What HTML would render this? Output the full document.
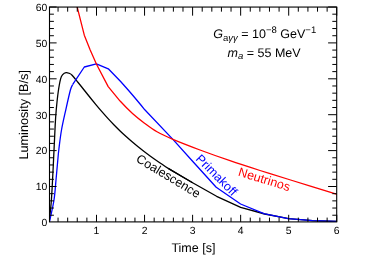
<!DOCTYPE html>
<html><head><meta charset="utf-8"><style>
html,body{margin:0;padding:0;background:#fff;}
svg{display:block;text-rendering:geometricPrecision;will-change:transform;font-family:"Liberation Sans",sans-serif;}
</style></head><body>
<svg width="374" height="271" viewBox="0 0 374 271">
<rect width="374" height="271" fill="#fff"/>
<defs><clipPath id="c"><rect x="49.5" y="7.06" width="287.2" height="214.84"/></clipPath></defs>
<g clip-path="url(#c)" fill="none" stroke-width="1.3" stroke-linejoin="round">
<path d="M49.20 221.70 C49.57 218.08 50.72 209.45 51.40 200.00 C52.08 190.55 52.67 177.50 53.30 165.00 C53.93 152.50 54.70 134.28 55.20 125.00 C55.70 115.72 55.80 114.80 56.30 109.30 C56.80 103.80 57.48 97.08 58.20 92.00 C58.92 86.92 59.85 81.75 60.60 78.85 C61.35 75.95 61.79 75.64 62.70 74.60 C63.61 73.56 64.97 72.82 66.05 72.60 C67.13 72.38 68.19 72.87 69.20 73.30 C70.21 73.73 70.62 73.67 72.10 75.20 C73.58 76.73 76.10 80.04 78.10 82.50 C80.10 84.96 82.10 87.49 84.10 89.98 C86.10 92.48 88.10 95.01 90.10 97.48 C92.10 99.95 94.10 102.41 96.10 104.82 C98.10 107.22 100.10 109.60 102.10 111.91 C104.10 114.22 106.10 116.49 108.10 118.68 C110.10 120.87 112.10 122.99 114.10 125.04 C116.10 127.10 118.10 129.07 120.10 130.99 C122.10 132.92 124.10 134.77 126.10 136.57 C128.10 138.38 130.10 140.12 132.10 141.81 C134.10 143.51 136.10 145.15 138.10 146.76 C140.10 148.36 142.10 149.91 144.10 151.44 C146.10 152.96 148.10 154.44 150.10 155.90 C152.10 157.35 154.10 158.77 156.10 160.17 C158.10 161.57 160.02 162.90 162.10 164.30 C164.18 165.70 163.52 165.53 168.60 168.60 C173.68 171.67 188.60 180.35 192.60 182.70" stroke="#000"/>
<path d="M168.60 168.60 L192.60 182.70 L216.60 196.30 L240.65 207.30 L264.70 214.00 L288.70 218.70 L312.70 220.60 L337.00 221.50" stroke="#000"/>
<path d="M49.50 221.70 C50.25 218.08 52.92 206.95 54.00 200.00 C55.08 193.05 55.37 186.67 56.00 180.00 C56.63 173.33 57.32 165.17 57.80 160.00 C58.28 154.83 58.28 154.00 58.90 149.00 C59.52 144.00 60.33 136.62 61.50 130.00 C62.67 123.38 64.42 115.97 65.90 109.30 C67.38 102.63 69.28 94.10 70.40 90.00 C71.52 85.90 72.23 85.58 72.60 84.70 " stroke="#00f"/>
<path d="M72.60 84.70 L84.30 67.00 L96.40 63.80 L108.30 68.80 L120.40 81.20 L128.20 90.00 L134.00 96.70 L140.90 105.00 L144.80 109.80 L172.90 139.40 L192.60 161.30 L216.20 187.20 L240.60 204.00 L263.90 213.70 L288.00 218.60 L312.70 220.60 L337.00 221.50" stroke="#00f"/>
<path d="M75.50 0.00 L77.20 7.10 L84.30 35.20 L90.20 50.00 L96.50 64.30 L108.20 86.60 L120.10 101.05" stroke="#f00"/>
<path d="M120.10 101.05 C124.15 105.53 128.43 109.81 132.50 113.50 C136.57 117.19 140.42 120.15 144.50 123.20 C148.58 126.25 152.27 129.10 157.00 131.80 C161.73 134.50 165.73 136.37 172.90 139.40 C180.07 142.43 190.48 146.45 200.00 150.00 C209.52 153.55 220.00 157.28 230.00 160.70 C240.00 164.12 249.90 167.28 260.00 170.50 C270.10 173.72 277.87 176.07 290.60 180.00 C303.33 183.93 327.33 191.32 336.40 194.10 C345.47 196.88 343.57 196.27 345.00 196.70" stroke="#f00"/>
</g>
<rect x="49.5" y="7.06" width="287.2" height="214.84" fill="none" stroke="#000" stroke-width="1.1"/>
<path d="M58.06 221.90 v-4.30 M58.06 7.06 v4.60 M67.67 221.90 v-4.30 M67.67 7.06 v4.60 M77.28 221.90 v-4.30 M77.28 7.06 v4.60 M86.89 221.90 v-4.30 M86.89 7.06 v4.60 M96.50 221.90 v-7.10 M96.50 7.06 v8.60 M106.11 221.90 v-4.30 M106.11 7.06 v4.60 M115.72 221.90 v-4.30 M115.72 7.06 v4.60 M125.33 221.90 v-4.30 M125.33 7.06 v4.60 M134.94 221.90 v-4.30 M134.94 7.06 v4.60 M144.55 221.90 v-7.10 M144.55 7.06 v8.60 M154.16 221.90 v-4.30 M154.16 7.06 v4.60 M163.77 221.90 v-4.30 M163.77 7.06 v4.60 M173.38 221.90 v-4.30 M173.38 7.06 v4.60 M182.99 221.90 v-4.30 M182.99 7.06 v4.60 M192.60 221.90 v-7.10 M192.60 7.06 v8.60 M202.21 221.90 v-4.30 M202.21 7.06 v4.60 M211.82 221.90 v-4.30 M211.82 7.06 v4.60 M221.43 221.90 v-4.30 M221.43 7.06 v4.60 M231.04 221.90 v-4.30 M231.04 7.06 v4.60 M240.65 221.90 v-7.10 M240.65 7.06 v8.60 M250.26 221.90 v-4.30 M250.26 7.06 v4.60 M259.87 221.90 v-4.30 M259.87 7.06 v4.60 M269.48 221.90 v-4.30 M269.48 7.06 v4.60 M279.09 221.90 v-4.30 M279.09 7.06 v4.60 M288.70 221.90 v-7.10 M288.70 7.06 v8.60 M298.31 221.90 v-4.30 M298.31 7.06 v4.60 M307.92 221.90 v-4.30 M307.92 7.06 v4.60 M317.53 221.90 v-4.30 M317.53 7.06 v4.60 M327.14 221.90 v-4.30 M327.14 7.06 v4.60 M336.75 221.90 v-7.10 M336.75 7.06 v8.60 M49.50 215.22 h4.40 M336.70 215.22 h-4.40 M49.50 208.04 h4.40 M336.70 208.04 h-4.40 M49.50 200.86 h4.40 M336.70 200.86 h-4.40 M49.50 193.68 h4.40 M336.70 193.68 h-4.40 M49.50 186.50 h7.10 M336.70 186.50 h-8.60 M49.50 179.32 h4.40 M336.70 179.32 h-4.40 M49.50 172.14 h4.40 M336.70 172.14 h-4.40 M49.50 164.96 h4.40 M336.70 164.96 h-4.40 M49.50 157.78 h4.40 M336.70 157.78 h-4.40 M49.50 150.60 h7.10 M336.70 150.60 h-8.60 M49.50 143.42 h4.40 M336.70 143.42 h-4.40 M49.50 136.24 h4.40 M336.70 136.24 h-4.40 M49.50 129.06 h4.40 M336.70 129.06 h-4.40 M49.50 121.88 h4.40 M336.70 121.88 h-4.40 M49.50 114.70 h7.10 M336.70 114.70 h-8.60 M49.50 107.52 h4.40 M336.70 107.52 h-4.40 M49.50 100.34 h4.40 M336.70 100.34 h-4.40 M49.50 93.16 h4.40 M336.70 93.16 h-4.40 M49.50 85.98 h4.40 M336.70 85.98 h-4.40 M49.50 78.80 h7.10 M336.70 78.80 h-8.60 M49.50 71.62 h4.40 M336.70 71.62 h-4.40 M49.50 64.44 h4.40 M336.70 64.44 h-4.40 M49.50 57.26 h4.40 M336.70 57.26 h-4.40 M49.50 50.08 h4.40 M336.70 50.08 h-4.40 M49.50 42.90 h7.10 M336.70 42.90 h-8.60 M49.50 35.72 h4.40 M336.70 35.72 h-4.40 M49.50 28.54 h4.40 M336.70 28.54 h-4.40 M49.50 21.36 h4.40 M336.70 21.36 h-4.40 M49.50 14.18 h4.40 M336.70 14.18 h-4.40 M49.50 7.00 h7.10 M336.70 7.00 h-8.60" stroke="#000" stroke-width="1" fill="none"/>
<g font-size="10.4" fill="#000"><text x="96.50" y="234.1" text-anchor="middle">1</text><text x="144.55" y="234.1" text-anchor="middle">2</text><text x="192.60" y="234.1" text-anchor="middle">3</text><text x="240.65" y="234.1" text-anchor="middle">4</text><text x="288.70" y="234.1" text-anchor="middle">5</text><text x="336.75" y="234.1" text-anchor="middle">6</text><text x="47.3" y="226.20" text-anchor="end">0</text><text x="47.3" y="190.30" text-anchor="end">10</text><text x="47.3" y="154.40" text-anchor="end">20</text><text x="47.3" y="118.50" text-anchor="end">30</text><text x="47.3" y="82.60" text-anchor="end">40</text><text x="47.3" y="46.70" text-anchor="end">50</text><text x="47.3" y="10.80" text-anchor="end">60</text></g>
<text x="193.4" y="252.2" font-size="12.5" text-anchor="middle">Time [s]</text>
<text transform="translate(28.1 114.8) rotate(-90)" font-size="12.7" text-anchor="middle">Luminosity [B/s]</text>
<text x="213.3" y="38.2" font-size="12.5"><tspan font-style="italic">G</tspan><tspan font-size="9.5" dy="2.4">a<tspan font-style="italic">γγ</tspan></tspan><tspan dy="-2.4"> = 10</tspan><tspan font-size="9.5" dy="-4.8">−8</tspan><tspan dy="4.8"> GeV</tspan><tspan font-size="9.5" dy="-4.8">−1</tspan></text>
<text x="227.6" y="56.8" font-size="12.5"><tspan font-style="italic">m</tspan><tspan font-size="9.5" dy="2.2" font-style="italic">a</tspan><tspan dy="-2.2"> = 55 MeV</tspan></text>
<text transform="translate(166.2 179.6) rotate(31)" font-size="12.5" text-anchor="middle">Coalescence</text>
<text transform="translate(213.7 178.1) rotate(45)" font-size="12.5" text-anchor="middle" fill="#00f">Primakoff</text>
<text transform="translate(263.1 183.4) rotate(17)" font-size="12.5" text-anchor="middle" fill="#f00">Neutrinos</text>
</svg>
</body></html>
